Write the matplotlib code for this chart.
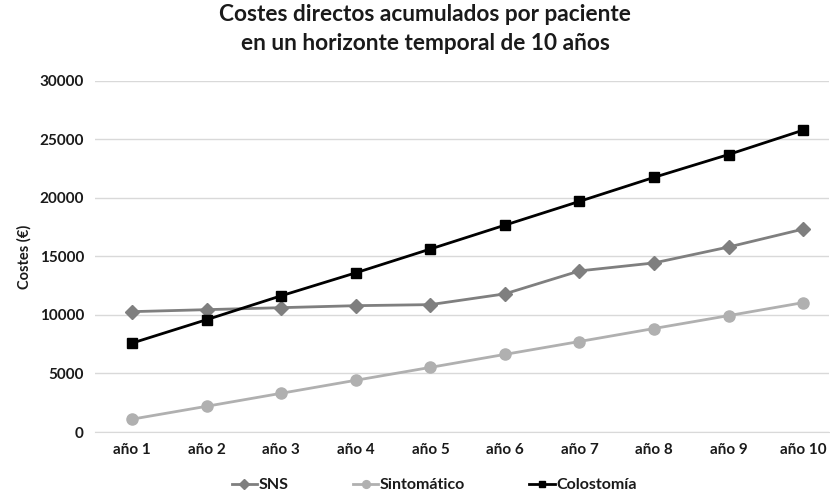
import numpy as np
import matplotlib.pyplot as plt

plt.rcParams['font.family'] = ['Lato', 'DejaVu Sans']

years = ["año 1", "año 2", "año 3", "año 4", "año 5", "año 6", "año 7", "año 8", "año 9", "año 10"]
sns_vals = [10280, 10450, 10620, 10790, 10880, 11800, 13760, 14440, 15800, 17330]
sintomatico = [1100, 2200, 3310, 4420, 5520, 6630, 7730, 8840, 9940, 11050]
colostomia = [7600, 9600, 11640, 13600, 15630, 17670, 19700, 21750, 23700, 25780]

fig = plt.figure(figsize=(8.30, 4.94), dpi=100)
ax = fig.add_axes([0.1145, 0.1255, 0.8845, 0.711])
x = np.arange(len(years))

ax.plot(x, sns_vals, color="#7f7f7f", lw=2, marker="D", ms=7, label="SNS")
ax.plot(x, sintomatico, color="#b0b0b0", lw=2, marker="o", ms=8, label="Sintomático")
ax.plot(x, colostomia, color="black", lw=2, marker="s", ms=7, label="Colostomía")

ax.set_ylim(0, 30000)
ax.set_xlim(-0.5, 9.35)
ax.set_yticks(np.arange(0, 30001, 5000))
ax.set_xticks(x)
ax.set_xticklabels(years)
ax.grid(axis="y", color="#d9d9d9", lw=1)
ax.set_axisbelow(True)
for s in ["top", "right", "left"]:
    ax.spines[s].set_visible(False)
ax.spines["bottom"].set_color("#d9d9d9")
ax.tick_params(length=0, labelsize=11, pad=8, colors="#1a1a1a")
for lab in ax.get_xticklabels() + ax.get_yticklabels():
    lab.set_fontweight("bold")
ax.set_ylabel("Costes (€)", fontsize=10.5, fontweight="bold", labelpad=6, color="#1a1a1a")

fig.suptitle("Costes directos acumulados por paciente\nen un horizonte temporal de 10 años",
             x=0.512, y=0.992, fontsize=16.3, fontweight="bold", color="#1a1a1a", linespacing=1.45)

leg = ax.legend(loc="upper center", bbox_to_anchor=(0.462, -0.09), ncol=3, frameon=False,
                prop={"size": 11.5, "weight": "bold"}, columnspacing=4.0, handlelength=1.6,
                handletextpad=0.1, markerscale=0.7)
for t in leg.get_texts():
    t.set_color("#1a1a1a")

fig.savefig("out.png", dpi=100)
